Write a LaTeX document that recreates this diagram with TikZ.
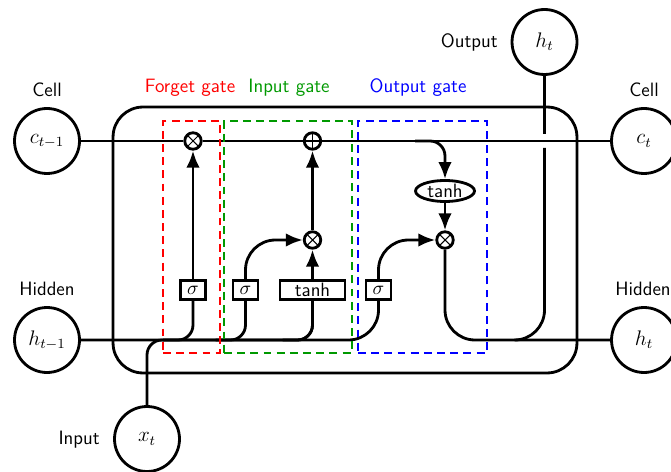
\documentclass[tikz,border=0pt]{standalone}
\usetikzlibrary{arrows.meta,shapes.geometric}
\begin{document}
\begin{tikzpicture}[x=0.02cm,y=-0.02cm,
  line width=1.6pt,
  font=\fontsize{11}{13}\selectfont\sffamily,
  >={Latex[length=0.34cm,width=0.27cm]},
  cellbox/.style={draw,rounded corners=0.6cm,minimum width=9.28cm,minimum height=5.32cm,inner sep=0pt},
  opx/.style={circle,draw,minimum size=0.33cm,inner sep=0pt,
    path picture={\draw[line width=0.6pt] (path picture bounding box.south west)--(path picture bounding box.north east)
      (path picture bounding box.north west)--(path picture bounding box.south east);}},
  opplus/.style={circle,draw,minimum size=0.33cm,inner sep=0pt,
    path picture={\draw[line width=0.6pt] (path picture bounding box.south)--(path picture bounding box.north)
      (path picture bounding box.west)--(path picture bounding box.east);}},
  fn/.style={ellipse,draw,minimum width=1.18cm,minimum height=0.42cm,inner sep=0pt},
  ext/.style={circle,draw,minimum size=1.3cm,inner sep=0pt,font=\fontsize{12}{14}\selectfont},
  gt/.style={rectangle,draw,minimum width=0.5cm,minimum height=0.38cm,inner sep=0pt,line width=1.4pt},
  lbl/.style={inner sep=0pt,anchor=base},
  r1/.style={rounded corners=0.3cm},
  r2/.style={rounded corners=0.6cm},
  gate/.style={draw,dash pattern=on 4.5pt off 3pt,line width=1.5pt,inner sep=0pt},
]
\useasboundingbox (0,0) rectangle (671,472);
\definecolor{gatered}{RGB}{255,0,0}
\definecolor{gategreen}{RGB}{0,153,0}
\definecolor{gateblue}{RGB}{0,0,255}

% main cell
\node[cellbox] (cell) at (345,240) {};

% inner gate boxes
\node[gt] (ibox1) at (193,290) {$\sigma$};
\node[gt] (ibox2) at (245.5,290) {$\sigma$};
\node[gt,minimum width=1.3cm] (ibox3) at (312.5,290) {tanh};
\node[gt] (ibox4) at (378.5,290) {$\sigma$};

% operators
\node[opx] (mux1) at (193,141) {};
\node[opplus] (add1) at (312.5,141) {};
\node[opx] (mux2) at (312.5,240) {};
\node[opx] (mux3) at (445,240) {};
\node[fn] (func1) at (445,191) {tanh};

% external
\node[ext] (c) at (47,141) {$c_{t-1}$};
\node[ext] (h) at (47,340) {$h_{t-1}$};
\node[ext] (x) at (147,439) {$x_t$};
\node[ext] (c2) at (644,141) {$c_t$};
\node[ext] (h2) at (644,340) {$h_t$};
\node[ext] (x2) at (544.5,42) {$h_t$};

% labels
\node[lbl] (lc) at (47,97) {Cell};
\node[lbl] (lh) at (47,296) {Hidden};
\node[lbl] (lc2) at (644,97) {Cell};
\node[lbl] (lh2) at (643,296) {Hidden};
\node[lbl,anchor=base east] (lx2) at (499,47.5) {Output};
\node[lbl,anchor=base east] (lx) at (101,444) {Input};
\node[lbl,text=gatered] (lf) at (190,93) {Forget gate};
\node[lbl,text=gategreen] (li) at (289,93) {Input gate};
\node[lbl,text=gateblue] (lo) at (418,93) {Output gate};

% cell state
\draw (c) -- (mux1) -- (add1) -- (c2);

% inputs
\draw[r2] (h) -| (ibox4);
\draw[r1] (h -| ibox1) ++(-30,0) -| (ibox1);
\draw[r1] (h -| ibox2) ++(-30,0) -| (ibox2);
\draw[r1] (h -| ibox3) ++(-30,0) -| (ibox3);
\draw[r1] (x) -- (x |- h) -| (ibox3);

% internal
\draw[->] (ibox1) -- (mux1);
\draw[->,r2] (ibox2) |- (mux2);
\draw[->] (ibox3) -- (mux2);
\draw[->,r2] (ibox4) |- (mux3);
\draw[->] (mux2) -- (add1);
\draw[->,r1] (add1 -| func1) ++(-30,0) -| (func1);
\draw[->] (func1) -- (mux3);

% outputs
\draw[r2] (mux3) |- (h2);
\path (c2 -| x2) ++(0,7) coordinate (i1);
\draw[r2] (h2 -| x2) ++(-30,0) -| (i1);
\draw (i1) ++(0,-14) -- (x2);

% gate frames
\node[gate,draw=gatered,minimum width=1.14cm,minimum height=4.64cm] (fgate) at (191.5,237) {};
\node[gate,draw=gategreen,minimum width=2.56cm,minimum height=4.64cm] (igate) at (288,237) {};
\node[gate,draw=gateblue,minimum width=2.58cm,minimum height=4.64cm] (ogate) at (422.5,237) {};
\end{tikzpicture}
\end{document}
